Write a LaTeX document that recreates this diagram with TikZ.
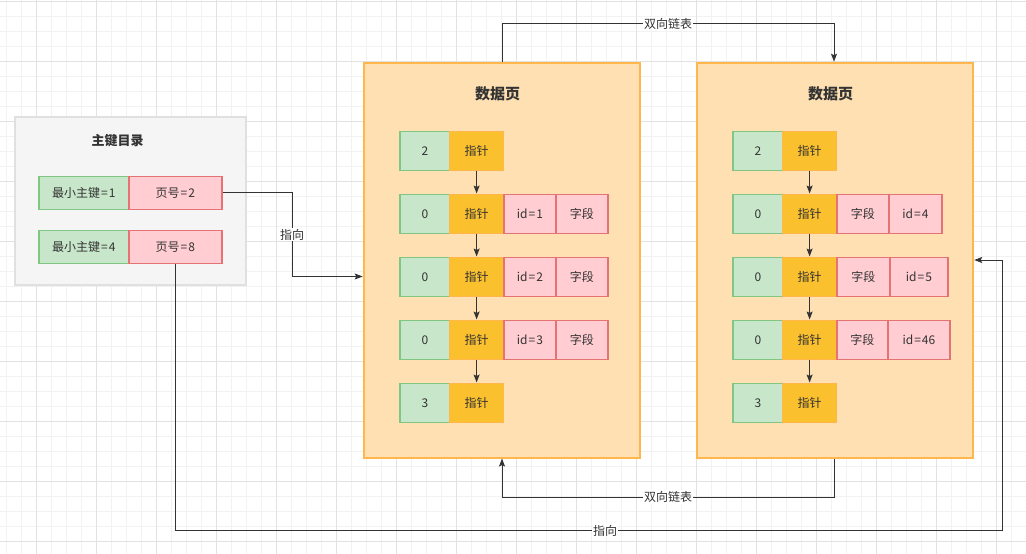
\documentclass[tikz,border=0pt]{standalone}
\usepackage{fontspec}
\setmainfont{Noto Sans CJK SC}
\usetikzlibrary{arrows.meta,calc}
\definecolor{gridminor}{HTML}{F2F2F2}
\definecolor{gridmajor}{HTML}{E2E2E2}
\definecolor{txt}{HTML}{333333}
\definecolor{dirfill}{HTML}{F5F5F5}
\definecolor{dirline}{HTML}{E0E0E0}
\definecolor{gfill}{HTML}{C8E6C9}
\definecolor{gline}{HTML}{81C784}
\definecolor{rfill}{HTML}{FFCDD2}
\definecolor{rline}{HTML}{E57373}
\definecolor{ofill}{HTML}{FFE0B2}
\definecolor{oline}{HTML}{FFB74D}
\definecolor{pfill}{HTML}{FBC02D}
\newcommand{\eqs}{\kern1pt=\kern1pt}
\begin{document}
\begin{tikzpicture}[x=1pt,y=-1pt,
  cell/.style={draw, line width=1.8pt, inner sep=0pt, anchor=north west, minimum height=39pt,
    font=\fontsize{12}{14}\selectfont, text=txt},
  gcell/.style={cell, fill=gfill, draw=gline},
  rcell/.style={cell, fill=rfill, draw=rline},
  pcell/.style={cell, fill=pfill, draw=oline, line width=1.2pt},
  pg/.style={draw=oline, fill=ofill, line width=2pt, inner sep=0pt, anchor=north west, minimum width=276.5pt, minimum height=394.8pt},
  ttl/.style={font=\fontsize{15}{18}\selectfont\bfseries, text=txt},
  conn/.style={draw=txt, line width=1pt},
  arr/.style={conn, -{Stealth[length=8pt,width=6pt,inset=1.5pt]}},
  lbl/.style={fill=white, inner sep=1pt, font=\fontsize{12}{14}\selectfont, text=txt}
]
\useasboundingbox (0,0) rectangle (1026,554);
% grid
\begin{scope}
\clip (0,0) rectangle (1026,554);
\foreach \x in {6.7,21.7,...,1026} \draw[gridminor, line width=0.8pt] (\x,0) -- (\x,554);
\foreach \y in {1,16,...,554} \draw[gridminor, line width=0.8pt] (0,\y) -- (1026,\y);
\foreach \x in {36.7,96.7,...,1026} \draw[gridmajor, line width=0.8pt] (\x,0) -- (\x,554);
\foreach \y in {1,61,...,554} \draw[gridmajor, line width=0.8pt] (0,\y) -- (1026,\y);
\end{scope}

% directory
\node[draw=dirline, fill=dirfill, line width=1.8pt, inner sep=0pt, anchor=north west,
  minimum width=231pt, minimum height=168pt] (dir) at (14,116) {};
\node[font=\fontsize{13}{16}\selectfont\bfseries, text=txt] (dt) at (117.5,140.5) {主键目录};
\node[gcell, minimum width=90pt, minimum height=33pt] (k1) at (38,175.5) {最小主键\eqs 1};
\node[rcell, minimum width=93pt, minimum height=33pt] (r1) at (128,175.5) {页号\eqs 2};
\node[gcell, minimum width=90pt, minimum height=33pt] (k2) at (38,229.5) {最小主键\eqs 4};
\node[rcell, minimum width=93pt, minimum height=33pt] (r2) at (128,229.5) {页号\eqs 8};

% page 1
\node[pg] (p1) at (362.7,61.7) {};
\node[ttl] (t1) at (497.5,94) {数据页};
\node[gcell, minimum width=50pt] (a1) at (399,130.5) {2};
\node[pcell, minimum width=54pt] (b1) at (449,130.5) {指针};
\node[gcell, minimum width=50pt] (a2) at (399,193.5) {0};
\node[pcell, minimum width=54pt] (b2) at (449,193.5) {指针};
\node[rcell, minimum width=52pt] (c2) at (503,193.5) {id\eqs 1};
\node[rcell, minimum width=52pt] (d2) at (555,193.5) {字段};
\node[gcell, minimum width=50pt] (a3) at (399,256.5) {0};
\node[pcell, minimum width=54pt] (b3) at (449,256.5) {指针};
\node[rcell, minimum width=52pt] (c3) at (503,256.5) {id\eqs 2};
\node[rcell, minimum width=52pt] (d3) at (555,256.5) {字段};
\node[gcell, minimum width=50pt] (a4) at (399,319.5) {0};
\node[pcell, minimum width=54pt] (b4) at (449,319.5) {指针};
\node[rcell, minimum width=52pt] (c4) at (503,319.5) {id\eqs 3};
\node[rcell, minimum width=52pt] (d4) at (555,319.5) {字段};
\node[gcell, minimum width=50pt] (a5) at (399,382.5) {3};
\node[pcell, minimum width=54pt] (b5) at (449,382.5) {指针};
\foreach \i/\j in {1/2,2/3,3/4,4/5} \draw[arr] (b\i.south) -- (b\j.north);

% page 2
\node[pg] (p2) at (695.7,61.7) {};
\node[ttl] (t2) at (830.5,94) {数据页};
\node[gcell, minimum width=50pt] (e1) at (732,130.5) {2};
\node[pcell, minimum width=54pt] (f1) at (782,130.5) {指针};
\node[gcell, minimum width=50pt] (e2) at (732,193.5) {0};
\node[pcell, minimum width=54pt] (f2) at (782,193.5) {指针};
\node[rcell, minimum width=52pt] (g2) at (836,193.5) {字段};
\node[rcell, minimum width=53pt] (h2) at (888,193.5) {id\eqs 4};
\node[gcell, minimum width=50pt] (e3) at (732,256.5) {0};
\node[pcell, minimum width=54pt] (f3) at (782,256.5) {指针};
\node[rcell, minimum width=53pt] (g3) at (836,256.5) {字段};
\node[rcell, minimum width=58pt] (h3) at (889,256.5) {id\eqs 5};
\node[gcell, minimum width=50pt] (e4) at (732,319.5) {0};
\node[pcell, minimum width=54pt] (f4) at (782,319.5) {指针};
\node[rcell, minimum width=51pt] (g4) at (836,319.5) {字段};
\node[rcell, minimum width=62pt] (h4) at (887,319.5) {id\eqs 46};
\node[gcell, minimum width=50pt] (e5) at (732,382.5) {3};
\node[pcell, minimum width=54pt] (f5) at (782,382.5) {指针};
\foreach \i/\j in {1/2,2/3,3/4,4/5} \draw[arr] (f\i.south) -- (f\j.north);

% connectors
\coordinate (v1) at (292,0);
\coordinate (in1) at (0,276.5);
\draw[arr] (r1.east) -- (r1.east -| v1) -- node[lbl]{指向} (v1 |- in1) -- (p1.west |- in1);

\coordinate (bl) at (0,530.5);
\coordinate (vr) at (1002,0);
\coordinate (in2) at (0,260);
\draw[arr] (r2.south) -- (r2.south |- bl) -- (vr |- bl) -- (vr |- in2) -- (p2.east |- in2);
\node[lbl] (l2) at (605,530.5) {指向};

\coordinate (tx1) at (502,0);
\coordinate (tx2) at (834,0);
\coordinate (ty) at (0,23.5);
\draw[arr] (p1.north -| tx1) -- (tx1 |- ty) -- node[lbl]{双向链表} (tx2 |- ty) -- (p2.north -| tx2);

\coordinate (by) at (0,497);
\draw[arr] (p2.south -| tx2) -- (tx2 |- by) -- node[lbl]{双向链表} (tx1 |- by) -- (p1.south -| tx1);
\end{tikzpicture}
\end{document}
